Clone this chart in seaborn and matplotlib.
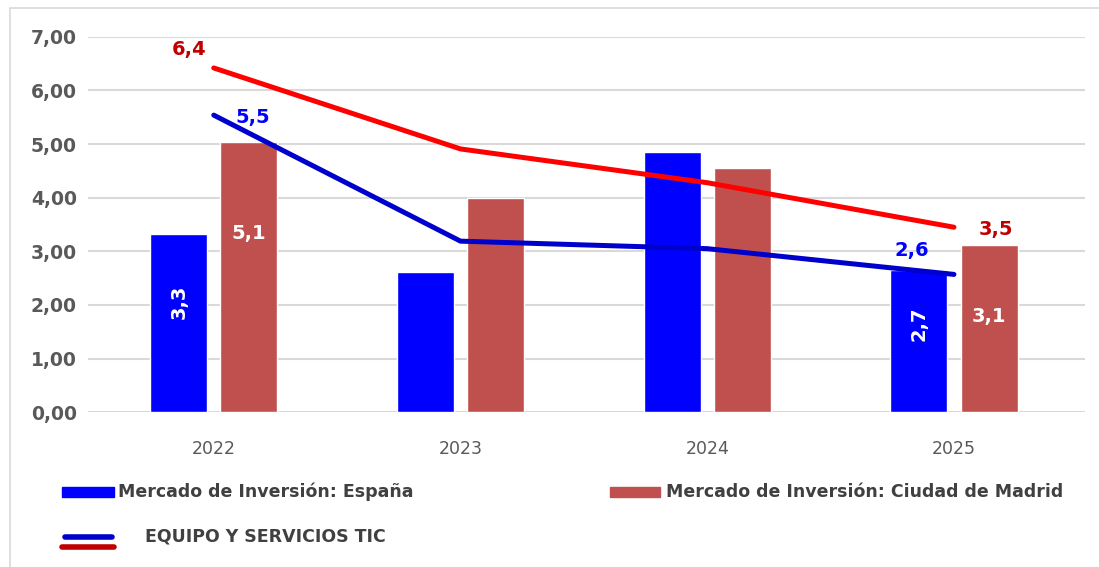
import numpy as np
import pandas as pd
import seaborn as sns
import matplotlib.pyplot as plt
from matplotlib.patches import Rectangle
from matplotlib.lines import Line2D
from matplotlib.ticker import FuncFormatter

# datos
years = ["2022", "2023", "2024", "2025"]
espana = [3.32, 2.61, 4.85, 2.65]
madrid = [5.04, 3.99, 4.55, 3.12]
tic_espana = [5.54, 3.19, 3.05, 2.57]
tic_madrid = [6.42, 4.91, 4.28, 3.45]
bar_labels_espana = ["3,3", "", "", "2,7"]
bar_labels_madrid = ["5,1", "", "", "3,1"]
line_labels_espana = ["5,5", "", "", "2,6"]
line_labels_madrid = ["6,4", "", "", "3,5"]

serie_es = "Mercado de Inversión: España"
serie_md = "Mercado de Inversión: Ciudad de Madrid"

sns.set_style("white")
plt.rcParams['font.family'] = ['DejaVu Sans']

bars = pd.DataFrame({
    "year": years * 2,
    "valor": espana + madrid,
    "serie": [serie_es] * 4 + [serie_md] * 4,
})

fig = plt.figure(figsize=(10.99, 5.67), dpi=100)
ax = fig.add_axes([0.080, 0.273, 0.907, 0.662])

sns.barplot(data=bars, x="year", y="valor", hue="serie",
            palette=["#0000FF", "#C0504D"], width=0.57, gap=0.19,
            saturation=1, legend=False, ax=ax)

pos = np.arange(len(years))
sns.lineplot(x=pos, y=tic_madrid, color="#FF0000", linewidth=3.6, ax=ax,
             solid_capstyle="round")
sns.lineplot(x=pos, y=tic_espana, color="#0000CC", linewidth=3.6, ax=ax,
             solid_capstyle="round")

ax.set_ylim(0, 7)
ax.set_xlim(-0.51, 3.53)
ax.set_yticks(np.arange(0, 8, 1))
ax.yaxis.set_major_formatter(FuncFormatter(lambda v, p: f"{v:.2f}".replace(".", ",")))
ax.grid(axis="y", color="#D9D9D9", linewidth=1.5)
ax.set_axisbelow(True)
for s in ax.spines.values():
    s.set_visible(False)
ax.tick_params(axis="both", length=0)
ax.tick_params(axis="y", labelsize=13.5, labelcolor="#595959", pad=8)
ax.tick_params(axis="x", labelsize=12.5, labelcolor="#595959", pad=20)
for t in ax.get_yticklabels():
    t.set_fontweight("bold")
ax.set_xlabel("")
ax.set_ylabel("")

off = 0.142
# etiquetas dentro de las barras
for i in pos:
    if bar_labels_espana[i]:
        ax.text(i - off, espana[i] * 0.62, bar_labels_espana[i], rotation=90,
                color="white", fontsize=14, fontweight="bold",
                ha="center", va="center")
    if bar_labels_madrid[i]:
        ax.text(i + off, madrid[i] * 0.66 if i == 0 else madrid[i] * 0.57,
                bar_labels_madrid[i], color="white", fontsize=14,
                fontweight="bold", ha="center", va="center")
# etiquetas de las lineas
for i in pos:
    if line_labels_madrid[i]:
        dx = -0.1 if i == 0 else 0.17
        dy = 0.35 if i == 0 else -0.04
        ax.text(i + dx, tic_madrid[i] + dy, line_labels_madrid[i],
                color="#C00000", fontsize=14, fontweight="bold",
                ha="center", va="center")
    if line_labels_espana[i]:
        dx = 0.16 if i == 0 else -0.17
        dy = -0.05 if i == 0 else 0.45
        ax.text(i + dx, tic_espana[i] + dy, line_labels_espana[i],
                color="#0000FF", fontsize=14, fontweight="bold",
                ha="center", va="center")

# leyenda manual
gris = "#404040"
fig.patches.append(Rectangle((0.0565, 0.123), 0.047, 0.018, color="#0000FF",
                             transform=fig.transFigure))
fig.text(0.107, 0.132, serie_es, color=gris, fontsize=12.5, fontweight="bold",
         va="center", ha="left")
fig.patches.append(Rectangle((0.555, 0.123), 0.046, 0.018, color="#C0504D",
                             transform=fig.transFigure))
fig.text(0.606, 0.132, serie_md, color=gris, fontsize=12.5, fontweight="bold",
         va="center", ha="left")
fig.lines.append(Line2D([0.059, 0.102], [0.053, 0.053], color="#0000CC",
                        linewidth=4, solid_capstyle="round",
                        transform=fig.transFigure))
fig.lines.append(Line2D([0.0565, 0.1035], [0.035, 0.035], color="#C00000",
                        linewidth=4, transform=fig.transFigure))
fig.text(0.132, 0.053, "EQUIPO Y SERVICIOS TIC", color=gris, fontsize=12.5,
         fontweight="bold", va="center", ha="left")

# borde del area del grafico
fig.patches.append(Rectangle((0.009, -0.1), 1.1, 1.086, fill=False,
                             edgecolor="#D9D9D9", linewidth=1.2,
                             transform=fig.transFigure))

fig.savefig("out.png", dpi=100)
